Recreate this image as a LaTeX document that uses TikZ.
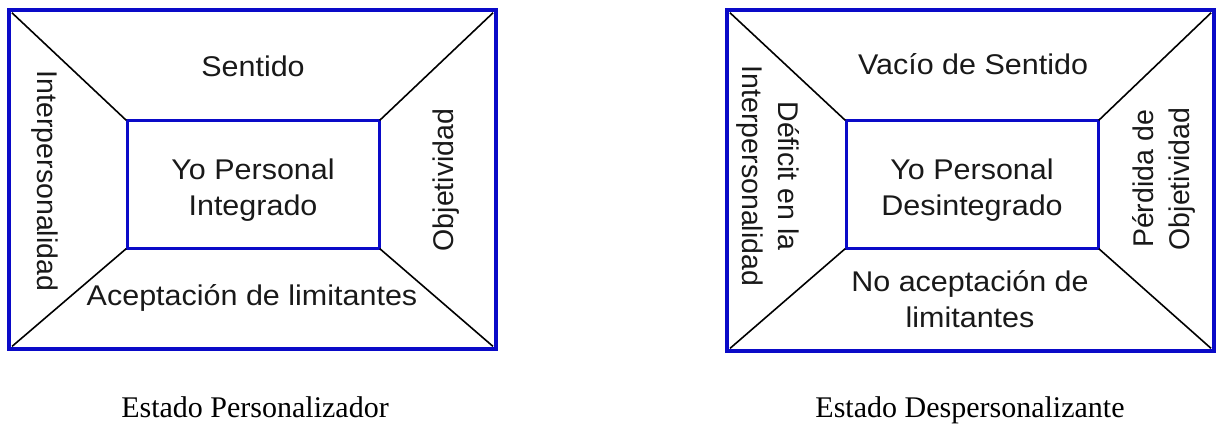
\documentclass[tikz,border=0pt]{standalone}
\usepackage{fontspec}
\setmainfont{Liberation Serif}
\newfontfamily\hv{Liberation Sans}
\newfontfamily\hvw[FakeStretch=1.07]{Liberation Sans}
\definecolor{boxblue}{RGB}{10,10,200}
\tikzset{
  outerbox/.style={draw=boxblue, line width=3.4pt, outer sep=0pt, inner sep=0pt},
  innerbox/.style={draw=boxblue, line width=3pt, outer sep=0pt, inner sep=0pt},
  diag/.style={draw=black, line width=1.6pt, shorten <=4pt, shorten >=1pt},
  lab/.style={font=\hvw\fontsize{28.5}{36}\selectfont, align=center, inner sep=0pt, text=black!90},
  vlab/.style={font=\hv\fontsize{28.5}{36}\selectfont, align=center, inner sep=0pt, text=black!90},
  captext/.style={font=\fontsize{30}{36}\selectfont, inner sep=0pt, anchor=base}
}
\begin{document}
\begin{tikzpicture}[x=1pt,y=1pt]
\useasboundingbox (0,0) rectangle (1222,-446);
% left diagram
\node[outerbox, minimum width=487pt, minimum height=339pt] (LO) at (252.5,-179.5) {};
\node[innerbox, minimum width=252pt, minimum height=127pt] (LI) at (253,-184.5) {};
\draw[diag] (LO.north west) -- (LI.north west);
\draw[diag] (LO.north east) -- (LI.north east);
\draw[diag] (LO.south west) -- (LI.south west);
\draw[diag] (LO.south east) -- (LI.south east);
\node[lab, anchor=base] (Lt) at (253,-77) {Sentido};
\node[lab] (Lc) at (253,-190) {Yo Personal\\Integrado};
\node[lab, anchor=base] (Lb) at (252,-305) {Aceptación de limitantes};
\node[vlab, rotate=-90] (Ll) at (45,-181) {Interpersonalidad};
\node[vlab, rotate=90] (Lr) at (446,-180) {Objetividad};
\node[captext] (Lcap) at (255,-417) {Estado Personalizador};
% right diagram
\node[outerbox, minimum width=487pt, minimum height=341pt] (RO) at (970.5,-180.5) {};
\node[innerbox, minimum width=252pt, minimum height=127pt] (RI) at (972,-184.5) {};
\draw[diag] (RO.north west) -- (RI.north west);
\draw[diag] (RO.north east) -- (RI.north east);
\draw[diag] (RO.south west) -- (RI.south west);
\draw[diag] (RO.south east) -- (RI.south east);
\node[lab, anchor=base] (Rt) at (973,-75) {Vacío de Sentido};
\node[lab] (Rc) at (972,-190) {Yo Personal\\Desintegrado};
\node[lab] (Rb) at (970,-299) {No aceptación de\\limitantes};
\node[vlab, rotate=-90] (Rl) at (768,-176) {Déficit en la\\Interpersonalidad};
\node[vlab, rotate=90] (Rr) at (1164,-179) {Pérdida de\\Objetividad};
\node[captext] (Rcap) at (970,-417) {Estado Despersonalizante};
\end{tikzpicture}
\end{document}
